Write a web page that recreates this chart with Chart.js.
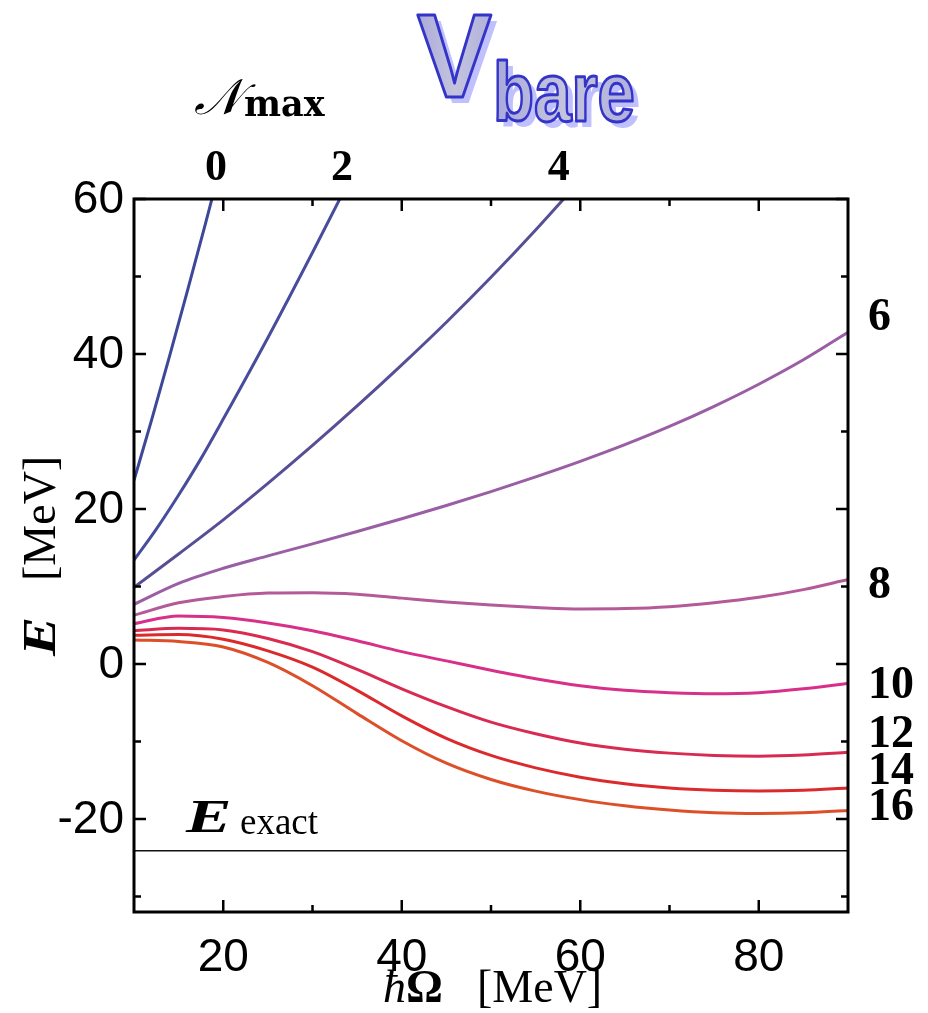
<!DOCTYPE html>
<html>
<head>
<meta charset="utf-8">
<script src="https://cdn.jsdelivr.net/npm/chart.js@4"></script>
<style>
  html, body { margin: 0; padding: 0; background: #fff; }
  #wrap { width: 928px; height: 1013px; position: relative; }
</style>
</head>
<body>
<div id="wrap"><canvas id="vbareChart"></canvas></div>
<script>
// hbar*Omega grid for the larger model spaces (MeV)
const hw = [10, 15, 20, 25, 30, 35, 40, 45, 50, 55, 60, 65, 70, 75, 80, 85, 90];

// Nmax = 0, 2, 4 run out of the top of the frame, so they have their own grids
const hw0 = [10, 12, 14, 16, 18, 20];
const e0 = [23.7, 31.6, 39.8, 48.2, 56.8, 65.6];
const hw2 = [10, 12.5, 15, 17.5, 20, 25, 30, 35];
const e2 = [13.4, 17.4, 21.8, 26.5, 31.6, 42.1, 53.1, 64.4];
const hw4 = [10, 15, 20, 25, 30, 35, 40, 45, 50, 55, 60];
const e4 = [9.9, 14.2, 18.6, 23.3, 28.2, 33.3, 38.6, 44.1, 49.9, 56.0, 62.4];

const e6 = [7.7, 10.4, 12.35, 13.95, 15.5, 17.1, 18.75, 20.45, 22.25, 24.15, 26.15, 28.3, 30.65, 33.25, 36.1, 39.25, 42.8];
const e8 = [6.3, 7.9, 8.7, 9.15, 9.2, 9.0, 8.5, 8.0, 7.6, 7.3, 7.1, 7.15, 7.4, 7.9, 8.6, 9.6, 10.9];
const e10 = [5.2, 6.2, 6.0, 5.3, 4.3, 3.0, 1.6, 0.4, -0.8, -1.9, -2.8, -3.4, -3.7, -3.85, -3.7, -3.2, -2.5];
const e12 = [4.3, 4.6, 4.4, 3.3, 1.6, -0.7, -3.2, -5.5, -7.5, -9.0, -10.2, -11.0, -11.5, -11.8, -11.9, -11.75, -11.4];
const e14 = [3.7, 3.8, 3.2, 1.7, -0.4, -3.4, -6.7, -9.6, -11.8, -13.4, -14.6, -15.45, -16.0, -16.3, -16.4, -16.3, -16.0];
const e16 = [3.1, 2.9, 2.2, 0.2, -2.8, -6.4, -9.9, -12.8, -14.9, -16.4, -17.5, -18.3, -18.85, -19.2, -19.3, -19.2, -18.9];

const eExact = -24.1;

const nmaxColors = ['#3d4899', '#474c9c', '#574f95', '#9a5ea4', '#b45a98', '#d8308a', '#d92b52', '#dc2a2c', '#dd4f28'];

// Nmax labels: top ones sit at the hbar*Omega where the curve leaves the frame,
// right ones at an energy next to the curve end
const topLabels = ['0', '2', '4'];
const topLabelX = [19.2, 33.3, 57.6];
const rightLabels = ['6', '8', '10', '12', '14', '16'];
const rightLabelE = [44.6, 10.1, -2.8, -9.2, -14.0, -18.6];

const xMajor = [20, 40, 60, 80];
const xMinor = [30, 50, 70];
const yMajor = [-20, 0, 20, 40, 60];
const yMinor = [-30, -10, 10, 30, 50];

function pts(xs, ys) {
  return xs.map((x, i) => ({ x: x, y: ys[i] }));
}

const curves = [
  pts(hw0, e0), pts(hw2, e2), pts(hw4, e4),
  pts(hw, e6), pts(hw, e8), pts(hw, e10), pts(hw, e12), pts(hw, e14), pts(hw, e16)
];

const datasets = curves.map((d, i) => ({
  data: d,
  borderColor: nmaxColors[i],
  borderWidth: 3,
  pointRadius: 0,
  fill: false,
  cubicInterpolationMode: 'monotone'
}));
datasets.push({
  data: [{ x: 10, y: eExact }, { x: 90, y: eExact }],
  borderColor: '#111',
  borderWidth: 1.4,
  pointRadius: 0,
  fill: false
});

const SERIF = '"Liberation Serif", "Times New Roman", serif';
const SANS = '"Liberation Sans", Arial, sans-serif';

// bold italic E, stretched sideways like the math font
function boldE(ctx, x, y, sx) {
  ctx.save();
  ctx.translate(x, y);
  ctx.scale(sx, 1);
  ctx.font = 'bold italic 47px ' + SERIF;
  ctx.fillText('E', 0, 0);
  ctx.restore();
}

// frame, inward ticks and all the annotation text
const framePlugin = {
  id: 'framePlugin',
  afterDatasetsDraw(chart) {
    const { ctx, chartArea: a, scales } = chart;
    const xs = scales.x, ys = scales.y;
    ctx.save();
    ctx.strokeStyle = '#000';
    ctx.lineWidth = 3;
    ctx.strokeRect(a.left, a.top, a.right - a.left, a.bottom - a.top);

    ctx.lineWidth = 2.5;
    ctx.beginPath();
    xMajor.concat(xMinor).forEach(v => {
      const len = xMajor.includes(v) ? 12 : 7;
      const px = xs.getPixelForValue(v);
      ctx.moveTo(px, a.bottom); ctx.lineTo(px, a.bottom - len);
      ctx.moveTo(px, a.top); ctx.lineTo(px, a.top + len);
    });
    yMajor.concat(yMinor).forEach(v => {
      const len = yMajor.includes(v) ? 12 : 7;
      const py = ys.getPixelForValue(v);
      ctx.moveTo(a.left, py); ctx.lineTo(a.left + len, py);
      ctx.moveTo(a.right, py); ctx.lineTo(a.right - len, py);
    });
    ctx.stroke();

    // tick numbers
    ctx.fillStyle = '#000';
    ctx.font = '46px ' + SANS;
    ctx.textBaseline = 'middle';
    ctx.textAlign = 'center';
    xs.ticks.forEach(t => ctx.fillText(String(t.value), xs.getPixelForValue(t.value), a.bottom + 46));
    ctx.textAlign = 'right';
    ys.ticks.forEach(t => ctx.fillText(String(t.value), a.left - 10, ys.getPixelForValue(t.value) + 1));
    ctx.restore();
  },
  afterDraw(chart) {
    const { ctx, chartArea: a, scales } = chart;
    const xs = scales.x, ys = scales.y;
    ctx.save();
    ctx.fillStyle = '#000';

    // Nmax values
    ctx.font = 'bold 44px ' + SERIF;
    ctx.textAlign = 'center';
    ctx.textBaseline = 'alphabetic';
    topLabels.forEach((t, i) => ctx.fillText(t, xs.getPixelForValue(topLabelX[i]), 180));
    ctx.font = 'bold 46px ' + SERIF;
    ctx.textAlign = 'left';
    ctx.textBaseline = 'middle';
    rightLabels.forEach((t, i) => ctx.fillText(t, a.right + 20, ys.getPixelForValue(rightLabelE[i])));

    // N_max heading
    ctx.textBaseline = 'alphabetic';
    ctx.font = 'italic 50px ' + SERIF;
    ctx.fillText('𝒩', 194, 114);
    ctx.font = 'bold 35px "DejaVu Serif", serif';
    ctx.fillText('max', 244, 116);

    // E_exact
    boldE(ctx, 186, 832, 1.45);
    ctx.font = '37px ' + SERIF;
    ctx.fillText('exact', 240, 834);

    // x axis title
    ctx.font = 'italic 46px ' + SERIF;
    ctx.fillText('ħ', 383, 1002);
    ctx.font = 'bold 46px ' + SERIF;
    ctx.fillText('Ω', 406, 1002);
    ctx.font = '46px ' + SERIF;
    ctx.fillText('[MeV]', 477, 1002);

    // y axis title
    ctx.translate(55, 557);
    ctx.rotate(-Math.PI / 2);
    boldE(ctx, -99, 0, 1.25);
    ctx.font = '46px ' + SERIF;
    ctx.fillText('[MeV]', -24, 0);
    ctx.restore();

    // V_bare logo
    ctx.save();
    ctx.lineJoin = 'round';
    const logo = (txt, x, y, size, sx) => {
      ctx.save();
      ctx.translate(x, y);
      ctx.scale(sx, 1);
      ctx.font = 'bold ' + size + 'px ' + SANS;
      ctx.fillStyle = 'rgba(150,150,250,0.6)';
      ctx.fillText(txt, 6 / sx, 6);
      const w = ctx.measureText(txt).width;
      const g = ctx.createLinearGradient(0, 0, w, 0);
      g.addColorStop(0, '#a9a9da');
      g.addColorStop(0.5, '#c4c4de');
      g.addColorStop(1, '#b0b0dc');
      ctx.fillStyle = g;
      ctx.fillText(txt, 0, 0);
      ctx.lineWidth = 3;
      ctx.strokeStyle = '#3434c8';
      ctx.strokeText(txt, 0, 0);
      ctx.restore();
    };
    logo('V', 417, 97, 118, 0.95);
    logo('bare', 493, 121, 84, 0.8);
    ctx.restore();
  }
};

new Chart(document.getElementById('vbareChart'), {
  type: 'line',
  data: { datasets: datasets },
  plugins: [framePlugin],
  options: {
    responsive: true,
    maintainAspectRatio: false,
    animation: false,
    events: [],
    layout: { padding: { top: 199, right: 80, left: 0, bottom: 0 } },
    plugins: {
      legend: { display: false },
      tooltip: { enabled: false }
    },
    scales: {
      x: {
        type: 'linear',
        min: 10,
        max: 90,
        afterBuildTicks: s => { s.ticks = xMajor.map(v => ({ value: v })); },
        afterFit: s => { s.height = 101; },
        grid: { display: false },
        border: { display: false },
        ticks: { display: false }
      },
      y: {
        type: 'linear',
        min: -32,
        max: 60,
        afterBuildTicks: s => { s.ticks = yMajor.map(v => ({ value: v })); },
        afterFit: s => { s.width = 134; },
        grid: { display: false },
        border: { display: false },
        ticks: { display: false }
      }
    }
  }
});
</script>
</body>
</html>
